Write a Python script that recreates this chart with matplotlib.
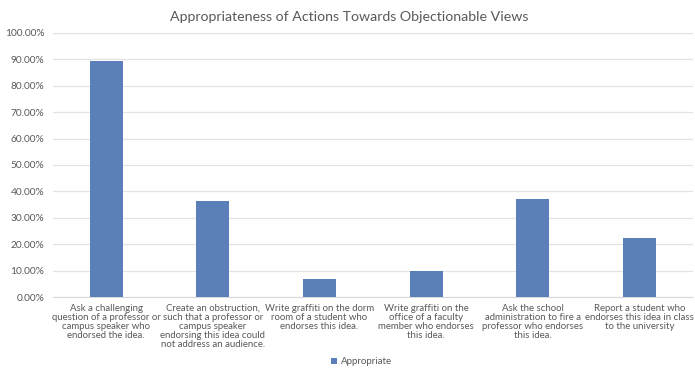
import matplotlib
matplotlib.use("Agg")
import matplotlib.pyplot as plt
from matplotlib.ticker import FuncFormatter, MultipleLocator

categories = [
    "Ask a challenging\nquestion of a professor or\ncampus speaker who\nendorsed the idea.",
    "Create an obstruction,\nsuch that a professor or\ncampus speaker\nendorsing this idea could\nnot address an audience.",
    "Write graffiti on the dorm\nroom of a student who\nendorses this idea.",
    "Write graffiti on the\noffice of a faculty\nmember who endorses\nthis idea.",
    "Ask the school\nadministration to fire a\nprofessor who endorses\nthis idea.",
    "Report a student who\nendorses this idea in class\nto the university",
]
appropriate = [89.2, 36.4, 6.8, 10.0, 37.1, 22.4]

plt.rcParams['font.family'] = ['Lato', 'DejaVu Sans']
text_color = "#595959"
bar_color = "#5b7fb8"

fig = plt.figure(figsize=(6.95, 3.69), dpi=100)
ax = fig.add_axes([0.076, 0.195, 0.921, 0.716])

x = range(len(categories))
ax.bar(x, appropriate, width=0.31, color=bar_color, label="Appropriate", zorder=3)

ax.set_xlim(-0.5, len(categories) - 0.5)
ax.set_ylim(0, 100)
ax.yaxis.set_major_locator(MultipleLocator(10))
ax.yaxis.set_major_formatter(FuncFormatter(lambda v, p: f"{v:.2f}%"))
ax.grid(axis="y", color="#e3e3e3", linewidth=0.9, zorder=0)
ax.set_xticks(list(x))
ax.set_xticklabels(categories, fontsize=6.9, color=text_color, linespacing=1.0,
                   va="top", ha="center")
ax.tick_params(axis="x", length=0, pad=5)
ax.tick_params(axis="y", length=0, labelsize=7.3, labelcolor=text_color, pad=6)
for s in ["top", "right", "left"]:
    ax.spines[s].set_visible(False)
ax.spines["bottom"].set_color("#d9d9d9")

fig.text(0.502, 0.955, "Appropriateness of Actions Towards Objectionable Views",
         ha="center", va="center", fontsize=10.2, color=text_color)

fig.legend(loc="center", bbox_to_anchor=(0.52, 0.02), frameon=False, fontsize=7,
           labelcolor=text_color, handlelength=0.6, handleheight=0.6, handletextpad=0.4)

fig.savefig("out.png", dpi=100, facecolor="white")
